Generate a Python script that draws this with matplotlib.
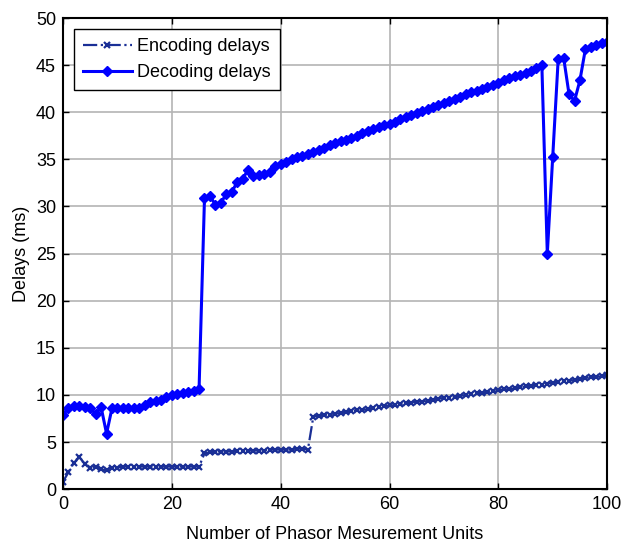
import matplotlib
matplotlib.use("Agg")
from matplotlib import pyplot as plt

plt.rcParams['font.family'] = ['Liberation Sans', 'DejaVu Sans']

# number of PMUs 0..100
pmus = list(range(0, 101))

# encoding delays (ms)
enc_start = [0.8, 1.8, 2.8, 3.4, 2.7, 2.3, 2.4, 2.1, 2.0, 2.2,
             2.3, 2.4, 2.4, 2.4, 2.4, 2.4, 2.4, 2.4, 2.4, 2.4,
             2.4, 2.4, 2.4, 2.4, 2.4, 2.4]
enc_mid = [3.8, 3.9, 4.0, 4.0, 4.0, 4.0, 4.1, 4.1, 4.1, 4.1,
           4.1, 4.1, 4.2, 4.2, 4.2, 4.2, 4.2, 4.3, 4.3, 4.2]
enc_end = [7.7, 7.8, 7.9, 7.9, 8.0, 8.1, 8.2, 8.3, 8.4, 8.4,
           8.5, 8.6, 8.7, 8.8, 8.9, 8.9, 9.0, 9.1, 9.2, 9.3,
           9.3, 9.4, 9.5, 9.6, 9.7, 9.7, 9.8, 9.9, 10.0, 10.1,
           10.2, 10.2, 10.3, 10.4, 10.5, 10.6, 10.6, 10.7, 10.8, 10.9,
           11.0, 11.1, 11.1, 11.2, 11.3, 11.4, 11.5, 11.5, 11.6, 11.7,
           11.8, 11.9, 11.9, 12.0, 12.1]
encoding = enc_start + enc_mid + enc_end

# decoding delays (ms)
dec_start = [7.9, 8.6, 8.8, 8.8, 8.7, 8.6, 8.0, 8.7, 5.9, 8.6,
             8.6, 8.6, 8.6, 8.6, 8.6, 8.9, 9.3, 9.4, 9.5, 9.8,
             10.0, 10.1, 10.2, 10.3, 10.4, 10.6]
dec_jump = [30.9, 31.1, 30.2, 30.4, 31.3, 31.5, 32.6, 32.9, 33.9, 33.2,
            33.3, 33.5, 33.7]
dec_linear = [34.3, 34.5, 34.7, 35.0, 35.2, 35.4, 35.6, 35.8, 36.0, 36.2,
              36.5, 36.7, 36.9, 37.1, 37.3, 37.5, 37.8, 38.0, 38.2, 38.4,
              38.6, 38.8, 39.0, 39.3, 39.5, 39.7, 39.9, 40.1, 40.3, 40.6,
              40.8, 41.0, 41.2, 41.4, 41.6, 41.9, 42.1, 42.3, 42.5, 42.7,
              42.9, 43.1, 43.4, 43.6, 43.8, 44.0, 44.2, 44.4, 44.7, 45.0]
dec_end = [25.0, 35.3, 45.6, 45.8, 41.9, 41.2, 43.4, 46.7, 46.9, 47.1,
           47.3, 47.5]
decoding = dec_start + dec_jump + dec_linear + dec_end

fig = plt.figure(figsize=(6.24, 5.46), dpi=100)
ax = fig.add_axes([0.101, 0.104, 0.872, 0.863])

ax.plot(pmus, encoding, linestyle='-.', color='#1a2f96', linewidth=1.6,
        marker='x', markersize=5, markeredgewidth=1.6, label='Encoding delays')
ax.plot(pmus, decoding, linestyle='-', color='#0000ff', linewidth=2.2,
        marker='D', markersize=5, label='Decoding delays')

ax.set_xlim(0, 100)
ax.set_ylim(0, 50)
ax.set_xticks([0, 20, 40, 60, 80, 100])
ax.set_yticks(range(0, 51, 5))
ax.grid(True, color='#b4b4b4', linestyle='-', linewidth=1.2)
ax.set_axisbelow(True)
ax.tick_params(direction='in', top=True, right=True, length=4,
               labelsize=13, width=1, pad=5)
for s in ax.spines.values():
    s.set_linewidth(1.5)

ax.set_xlabel('Number of Phasor Mesurement Units', fontsize=13, labelpad=9)
ax.set_ylabel('Delays (ms)', fontsize=13, labelpad=4)

leg = ax.legend(loc='upper left', fontsize=13, fancybox=False,
                edgecolor='black', framealpha=1, borderaxespad=0.6,
                handlelength=2.7, handletextpad=0.3, borderpad=0.5,
                labelspacing=0.5)
leg.get_frame().set_linewidth(1)

plt.savefig('out.png', dpi=100)
